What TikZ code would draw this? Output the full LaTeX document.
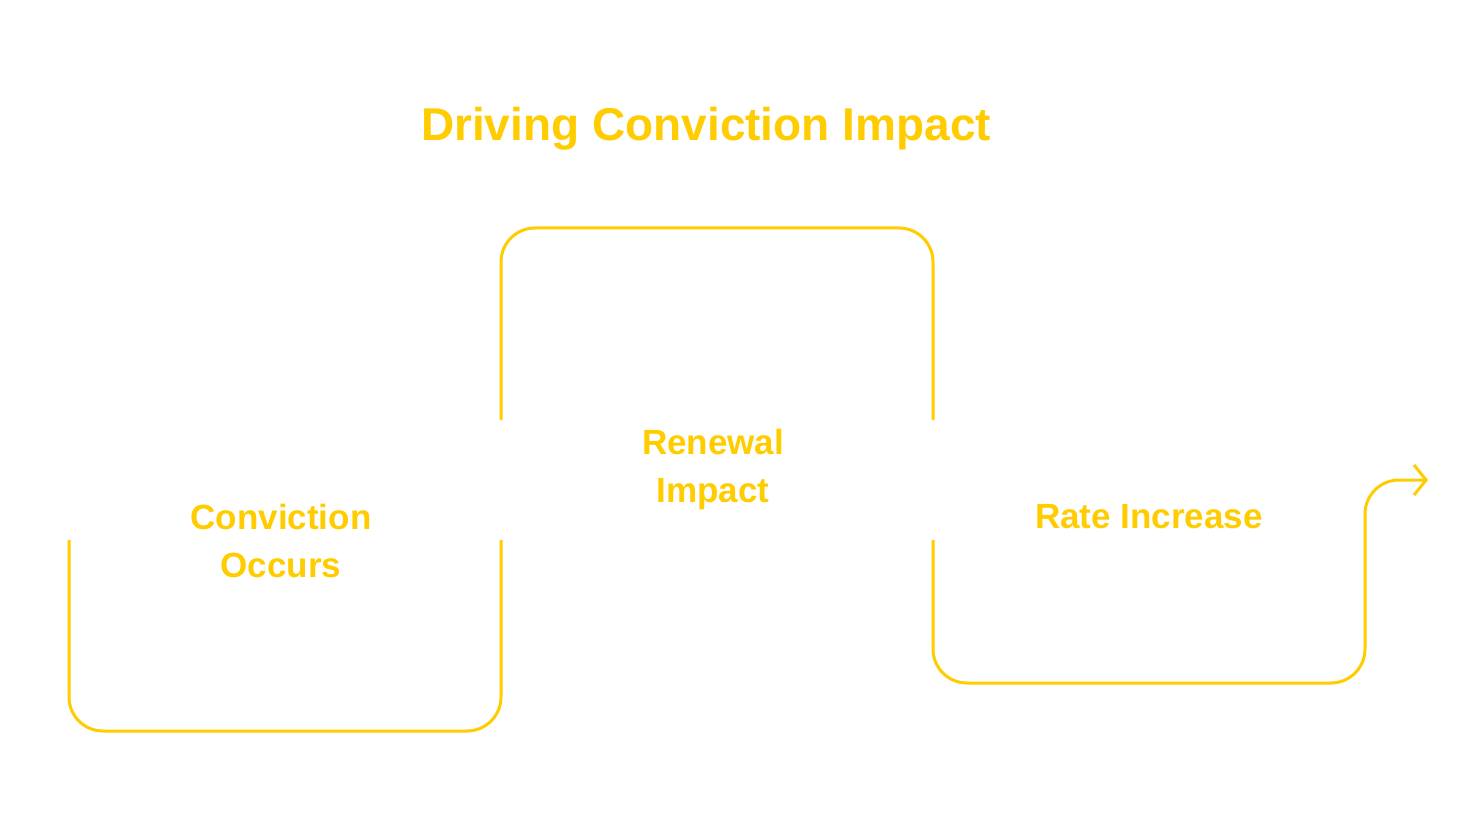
\documentclass[tikz,border=0pt]{standalone}
\usepackage{fontspec}
\setmainfont{Liberation Sans}
\usetikzlibrary{arrows.meta}
\definecolor{gold}{HTML}{FFCC00}
\tikzset{
	stepline/.style={draw=gold, line width=3pt, rounded corners=34pt},
	steplabel/.style={text=gold, font=\fontsize{35}{48}\selectfont\bfseries, align=center},
}
\begin{document}
\begin{tikzpicture}[x=1pt,y=-1pt]
	\useasboundingbox (0,0) rectangle (1475,829);
	% title
	\node [text=gold, font=\fontsize{46}{52}\selectfont\bfseries] (title) at (706,129) {Driving Conviction Impact};
	% stair path
	\draw [stepline] (69,540) -- (69,731) -- (501,731) -- (501,540);
	\draw [stepline] (501,420) -- (501,228) -- (933,228) -- (933,420);
	\draw [stepline, -{Straight Barb[length=12pt,width=30pt]}] (933,540) -- (933,683) -- (1365,683) -- (1365,480) -- (1428,480);
	% labels
	\node [steplabel] (occurs) at (281,541) {Conviction\\Occurs};
	\node [steplabel] (renewal) at (713,469) {Renewal\\Impact};
	\node [steplabel] (rate) at (1149,517) {Rate Increase};
\end{tikzpicture}
\end{document}
